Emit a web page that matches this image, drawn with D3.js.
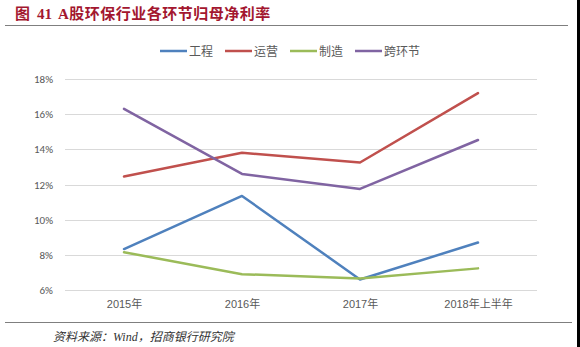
<!DOCTYPE html>
<html><head><meta charset="utf-8">
<script src="https://cdn.jsdelivr.net/npm/d3@7"></script>
<style>body{margin:0;background:#fff}svg{display:block}</style>
</head><body>
<svg id="c" width="580" height="347"></svg>
<script>
const categories = ["2015年","2016年","2017年","2018年上半年"];
const seriesNames = ["工程","运营","制造","跨环节"];
const gongcheng = [8.33, 11.35, 6.6, 8.7];
const yunying = [12.45, 13.8, 13.25, 17.2];
const zhizao = [8.15, 6.9, 6.65, 7.23];
const kuahuanjie = [16.3, 12.6, 11.75, 14.53];
const yTicks = [6, 8, 10, 12, 14, 16, 18];
const colors = ["#4f81bd","#c0504d","#9bbb59","#8064a2"];
const seriesValues = [gongcheng, yunying, zhizao, kuahuanjie];

const svg = d3.select("#c");
const cjk = "'Noto Sans CJK SC', 'Noto Sans', sans-serif";
const serif = "'Liberation Serif', 'Noto Sans CJK SC', serif";

svg.append("rect").attr("x",577).attr("y",0).attr("width",3).attr("height",347).attr("fill","#000");

const title = svg.append("text").attr("y",19)
  .attr("font-family","'Liberation Serif', 'Noto Sans CJK SC', serif").attr("font-weight","bold")
  .attr("font-size",15).attr("fill","#a3172f");
title.append("tspan").attr("x",15).text("图");
title.append("tspan").attr("x",37).text("41");
title.append("tspan").attr("x",58).attr("letter-spacing",0.5).text("A股环保行业各环节归母净利率");
svg.append("line").attr("x1",5).attr("x2",568).attr("y1",25.5).attr("y2",25.5).attr("stroke","#7f7f7f").attr("stroke-width",1);

const x = d3.scalePoint().domain(categories).range([65,537]).padding(0.5);
const y = d3.scaleLinear().domain([6,18]).range([290,79]);

const grid = svg.append("g");
grid.selectAll("line").data(yTicks).join("line")
  .attr("x1",65).attr("x2",537).attr("y1",d=>Math.round(y(d))+0.5).attr("y2",d=>Math.round(y(d))+0.5)
  .attr("stroke","#d9d9d9").attr("stroke-width",1);

const yAxis = svg.append("g").attr("transform","translate(65,0)")
  .call(d3.axisLeft(y).tickValues(yTicks).tickFormat(d=>d+"%").tickSize(0).tickPadding(12));
yAxis.select(".domain").remove();
yAxis.selectAll("text").attr("font-family","Calibri, 'Liberation Sans', sans-serif").attr("font-size",11).attr("fill","#595959");

const xAxis = svg.append("g").attr("transform","translate(0,290)")
  .call(d3.axisBottom(x).tickSize(0).tickPadding(10));
xAxis.select(".domain").remove();
xAxis.selectAll("text").attr("font-family","'Liberation Sans', 'Noto Sans CJK SC', sans-serif").attr("font-size",11).attr("fill","#595959");

const line = d3.line().x((d,i)=>x(categories[i])).y(d=>y(d));
svg.append("g").selectAll("path").data(seriesValues).join("path")
  .attr("d",d=>line(d)).attr("fill","none").attr("stroke",(d,i)=>colors[i])
  .attr("stroke-width",2.5).attr("stroke-linejoin","round").attr("stroke-linecap","round");

const legX = [160,225,290,355];
const leg = svg.append("g");
seriesNames.forEach((n,i)=>{
  leg.append("line").attr("x1",legX[i]).attr("x2",legX[i]+27).attr("y1",51).attr("y2",51)
    .attr("stroke",colors[i]).attr("stroke-width",2.5);
  leg.append("text").attr("x",legX[i]+29).attr("y",55.5).attr("font-family",cjk)
    .attr("font-size",12).attr("fill","#595959").text(n);
});

svg.append("line").attr("x1",5).attr("x2",572).attr("y1",322.5).attr("y2",322.5).attr("stroke","#7f7f7f").attr("stroke-width",1);
svg.append("text").attr("x",53).attr("y",341).attr("font-family",serif).attr("font-style","italic")
  .attr("font-size",12).attr("fill","#333").text("资料来源：Wind，招商银行研究院");
</script>
</body></html>
